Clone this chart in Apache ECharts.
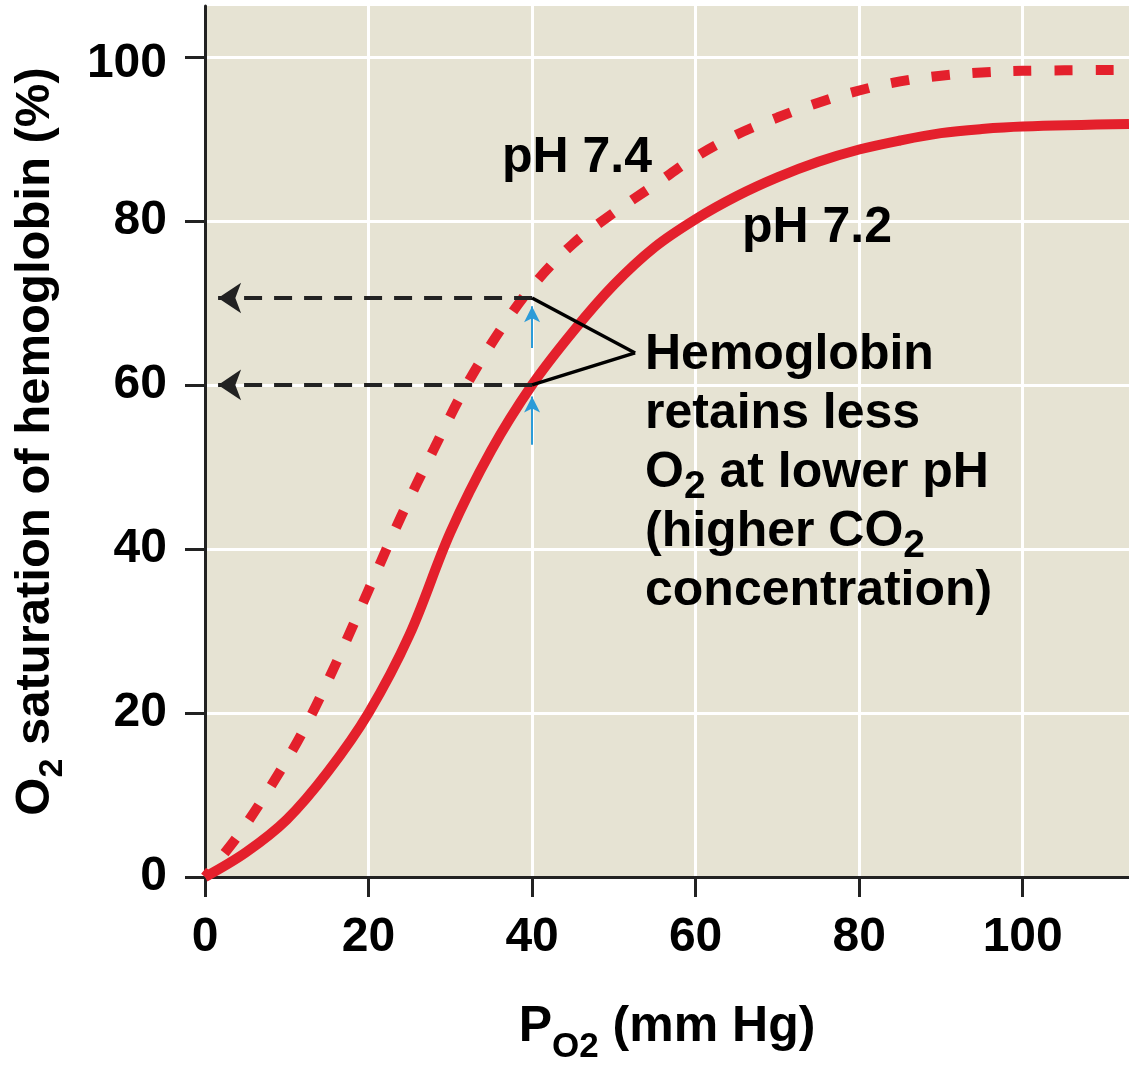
<!DOCTYPE html>
<html>
<head>
<meta charset="utf-8">
<style>
  html, body { margin: 0; padding: 0; background: #fff; }
  #chart { width: 1129px; height: 1067px; }
</style>
<script src="https://cdn.jsdelivr.net/npm/echarts@6/dist/echarts.min.js"></script>
</head>
<body>
<div id="chart"></div>
<script>
  // pH 7.2 (solid curve)
  const po2Low = [0, 5, 10, 15, 20, 25, 30, 35, 40, 45, 50, 55, 60, 65, 70, 75, 80, 85, 90, 95, 100, 113]
  const satLow = [0, 3, 7, 12.8, 20, 29.5, 42, 52, 60, 66.5, 72.2, 76.8, 80.2, 83, 85.3, 87.2, 88.7, 89.8, 90.7, 91.2, 91.5, 91.8]

  // pH 7.4 (dashed curve)
  const po2High = [0, 4, 8, 12, 16, 20, 24, 28, 32, 36, 40, 45, 50, 55, 60, 65, 70, 75, 80, 85, 90, 95, 100, 113]
  const satHigh = [0, 5, 11, 17.8, 26, 35, 44, 52.2, 60, 66.5, 72, 77.2, 81, 84.4, 87.8, 90.5, 92.6, 94.4, 95.9, 97, 97.7, 98.1, 98.3, 98.4]

  const xTicks = [0, 20, 40, 60, 80, 100]
  const yTicks = [0, 20, 40, 60, 80, 100]

  // readings at PO2 = 40 mm Hg
  const readPo2 = 40
  const readSat = [70.6, 60]

  const RED = '#e4202c'
  const BLUE = '#2b9bd8'
  const INK = '#222'
  const FONT = '"Liberation Sans", Arial, Helvetica, sans-serif'

  const zip = (xs, ys) => xs.map((x, i) => [x, ys[i]])

  // rich text: padding at the bottom lifts the main text, the subscript sits at the line bottom
  const mainStyle = (size, lh, lift) => ({
    fontFamily: FONT, fontWeight: 'bold', fontSize: size, lineHeight: lh,
    padding: [0, 0, lift, 0], color: '#000', fill: '#000',
  })
  const subStyle = size => ({
    fontFamily: FONT, fontWeight: 'bold', fontSize: size, lineHeight: size,
    verticalAlign: 'bottom', color: '#000', fill: '#000',
  })

  const chart = echarts.init(document.getElementById('chart'))

  const option = {
    animation: false,
    grid: {
      left: 205,
      right: 0,
      top: 6,
      bottom: 190,
      outerBoundsMode: 'none',
      show: true,
      backgroundColor: '#e6e3d3',
      borderWidth: 0,
    },
    xAxis: {
      type: 'value',
      min: 0,
      max: 113,
      interval: 20,
      name: '{a|P}{s|O2}{a| (mm Hg)}',
      nameLocation: 'middle',
      nameGap: 128,
      nameTextStyle: {
        rich: { a: mainStyle(50, 60, 15), s: subStyle(35) },
      },
      axisLine: { show: true, onZero: false, lineStyle: { color: INK, width: 3 } },
      axisTick: { show: true, length: 20, customValues: xTicks, lineStyle: { color: INK, width: 3 } },
      axisLabel: {
        customValues: xTicks,
        margin: 37,
        fontFamily: FONT,
        fontWeight: 'bold',
        fontSize: 48,
        color: '#000',
      },
      splitLine: { show: true, lineStyle: { color: '#fff', width: 3 } },
    },
    yAxis: {
      type: 'value',
      min: 0,
      max: 106.2,
      interval: 20,
      name: '{a|O}{s|2}{a| saturation of hemoglobin (%)}',
      nameLocation: 'middle',
      nameGap: 135,
      nameTextStyle: {
        rich: { a: mainStyle(49, 60, 10), s: subStyle(34) },
      },
      axisLine: { show: true, onZero: false, lineStyle: { color: INK, width: 3 } },
      axisTick: { show: true, length: 20, customValues: yTicks, lineStyle: { color: INK, width: 3 } },
      axisLabel: {
        customValues: yTicks,
        margin: 38,
        fontFamily: FONT,
        fontWeight: 'bold',
        fontSize: 48,
        color: '#000',
        formatter: v => (v === 100 ? '{t|100}' : String(v)),
        rich: {
          t: { fontFamily: FONT, fontWeight: 'bold', fontSize: 48, color: '#000', padding: [14, 0, 0, 0] },
        },
      },
      splitLine: { show: true, lineStyle: { color: '#fff', width: 3 } },
    },
    series: [
      {
        // black dashed read-off arrows, under the curves
        type: 'line',
        data: [],
        z: 2,
        silent: true,
        markLine: {
          silent: true,
          animation: false,
          symbol: ['none', 'arrow'],
          symbolSize: 23,
          label: { show: false },
          lineStyle: { color: INK, width: 4, type: [18, 12] },
          emphasis: { disabled: true },
          data: readSat.map(s => [{ coord: [readPo2, s] }, { coord: [1.6, s] }]),
        },
      },
      {
        name: 'pH 7.4',
        type: 'line',
        data: zip(po2High, satHigh),
        smooth: 0.35,
        symbol: 'none',
        z: 3,
        silent: true,
        lineStyle: { color: RED, width: 10, type: [18, 23], cap: 'butt', dashOffset: 10 },
      },
      {
        name: 'pH 7.2',
        type: 'line',
        data: zip(po2Low, satLow),
        smooth: 0.35,
        symbol: 'none',
        z: 4,
        silent: true,
        lineStyle: { color: RED, width: 10 },
      },
      {
        // leader lines and blue arrows, above the curves
        type: 'line',
        data: [],
        z: 5,
        silent: true,
        markLine: {
          silent: true,
          animation: false,
          label: { show: false },
          emphasis: { disabled: true },
          data: [
            [{ coord: [readPo2, readSat[0]], symbol: 'none', lineStyle: { color: '#000', width: 3.5, type: 'solid' } },
             { coord: [52.6, 63.9], symbol: 'none' }],
            [{ coord: [readPo2, readSat[1]], symbol: 'none', lineStyle: { color: '#000', width: 3.5, type: 'solid' } },
             { coord: [52.6, 63.9], symbol: 'none' }],
            [{ coord: [readPo2, 64.5], symbol: 'none', lineStyle: { color: BLUE, width: 2, type: 'solid' } },
             { coord: [readPo2, 69.6], symbol: 'arrow', symbolSize: [12, 16] }],
            [{ coord: [readPo2, 52.7], symbol: 'none', lineStyle: { color: BLUE, width: 2, type: 'solid' } },
             { coord: [readPo2, 58.6], symbol: 'arrow', symbolSize: [12, 16] }],
          ],
        },
      },
    ],
    graphic: [
      {
        type: 'text', x: 502, y: 158, z: 10,
        style: { text: 'pH 7.4', font: 'bold 50px ' + FONT, fill: '#000', verticalAlign: 'middle' },
      },
      {
        type: 'text', x: 742, y: 228, z: 10,
        style: { text: 'pH 7.2', font: 'bold 50px ' + FONT, fill: '#000', verticalAlign: 'middle' },
      },
      {
        type: 'text', x: 645, y: 330, z: 10,
        style: {
          text: '{a|Hemoglobin}\n{a|retains less}\n{a|O}{s|2}{a| at lower pH}\n{a|(higher CO}{s|2}\n{a|concentration)}',
          verticalAlign: 'top',
          rich: { a: mainStyle(50, 59, 8), s: subStyle(39) },
        },
      },
    ],
  }

  chart.setOption(option)
</script>
</body>
</html>
